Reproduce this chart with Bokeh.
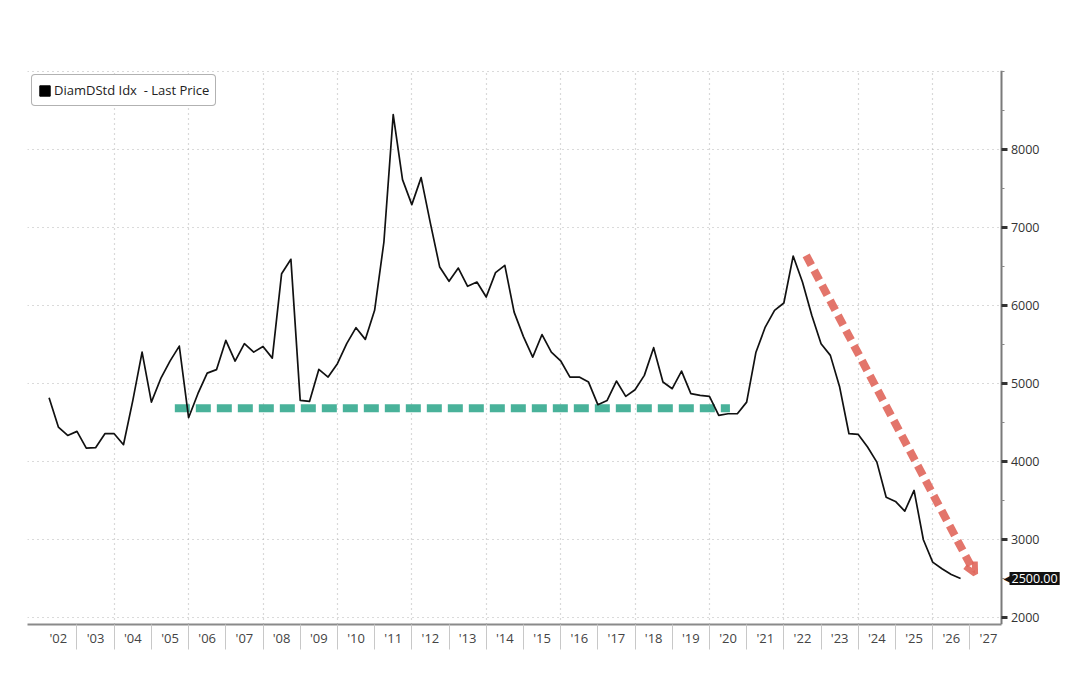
from bokeh.plotting import figure
from bokeh.models import (Range1d, LinearAxis, FixedTicker, CustomJSTickFormatter,
                          Legend, LegendItem, Label, Arrow, OpenHead)
from bokeh.embed import file_html
from bokeh.resources import INLINE

# ---------------- data ----------------
series_name = "DiamDStd Idx  - Last Price"
first_quarter = 2002.25          # first observation (year fraction), quarterly data
price = [
    4817, 4440, 4333,
    4385, 4171, 4176, 4355,
    4355, 4214, 4780, 5401,
    4760, 5060, 5286, 5478,
    4560, 4868, 5132, 5176,
    5551, 5286, 5509, 5401,
    5474, 5324, 6406, 6590,
    4782, 4769, 5179, 5081,
    5253, 5509, 5714, 5564,
    5936, 6812, 8445, 7612,
    7291, 7637, 7050, 6491,
    6308, 6478, 6244, 6299,
    6107, 6419, 6513, 5914,
    5600, 5337, 5626, 5401,
    5290, 5081, 5081, 5017,
    4727, 4782, 5030, 4833,
    4919, 5103, 5458, 5017,
    4932, 5158, 4868, 4846,
    4833, 4590, 4611, 4611,
    4760, 5400, 5722, 5936,
    6030, 6632, 6299, 5872,
    5509, 5359, 4953, 4355,
    4346, 4184, 3991, 3542,
    3487, 3363, 3628, 2996,
    2709, 2624, 2551, 2500,
]
last_price_label = "2500.00"
year_labels = ["'02", "'03", "'04", "'05", "'06", "'07", "'08", "'09", "'10", "'11",
               "'12", "'13", "'14", "'15", "'16", "'17", "'18", "'19", "'20", "'21",
               "'22", "'23", "'24", "'25", "'26", "'27"]
first_label_year = 2002
y_ticks = [2000, 3000, 4000, 5000, 6000, 7000, 8000]

# annotation levels
support_level = 4680
support_start, support_end = 2005.63, 2020.55
arrow_start = (2022.6, 6640)
arrow_end = (2027.14, 2560)

x_dates = [first_quarter + 0.25 * i for i in range(len(price))]

# ---------------- figure ----------------
X0, X_AXIS = 2001.67, 2027.85          # left edge of chart, position of the price axis
PX_PER_YEAR = 974 / (X_AXIS - X0)
X1 = X0 + (1064 - 27) / PX_PER_YEAR     # frame runs on under the price-axis labels
Y0, Y1 = 1910, 9010

p = figure(width=1064, height=658, output_backend="svg", toolbar_location=None,
           x_range=Range1d(X0, X1), y_range=Range1d(Y0, Y1),
           x_axis_location=None, y_axis_location=None,
           min_border_left=27, min_border_right=0, min_border_top=70, min_border_bottom=34)
p.outline_line_color = None
p.background_fill_color = "white"
p.border_fill_color = "white"

# grids
p.xgrid.ticker = FixedTicker(ticks=list(range(2004, 2027, 2)))
p.ygrid.ticker = FixedTicker(ticks=list(range(2000, 9001, 1000)))
for g in (p.xgrid, p.ygrid):
    g.grid_line_color = "#b4b4b4"
    g.grid_line_dash = "1 4"
    g.grid_line_width = 1.2
try:
    p.ygrid.cross_bounds = (X0, X_AXIS)
except Exception:
    pass

# bottom axis: labels at mid-year, separators at year starts
xaxis = LinearAxis(
    ticker=FixedTicker(ticks=[first_label_year + i + 0.5 for i in range(len(year_labels))],
                       minor_ticks=list(range(first_label_year + 1, first_label_year + len(year_labels)))),
    formatter=CustomJSTickFormatter(args=dict(labels=year_labels, start=first_label_year), code="""
        const i = Math.round(tick - 0.5) - start;
        return (i >= 0 && i < labels.length) ? labels[i] : '';
    """),
    bounds=(X0, X_AXIS))
xaxis.axis_line_color = "#8a8a8a"
xaxis.axis_line_width = 2
xaxis.major_tick_line_color = None
xaxis.major_tick_in = 0
xaxis.major_tick_out = 0
xaxis.minor_tick_line_color = "#c8c8c8"
xaxis.minor_tick_in = 0
xaxis.minor_tick_out = 25
xaxis.major_label_standoff = -21
xaxis.major_label_text_font = "Open Sans"
xaxis.major_label_text_font_size = "13px"
xaxis.major_label_text_color = "#444444"
p.add_layout(xaxis, "below")

# price axis: drawn at a fixed x position, ticks and labels turned to its right side
yaxis = LinearAxis(ticker=FixedTicker(ticks=y_ticks,
                                      minor_ticks=[2500, 3500, 4500, 5500, 6500, 7500, 8500, 9000]),
                   fixed_location=X_AXIS)
yaxis.axis_line_color = "#7a7a7a"
yaxis.axis_line_width = 2
yaxis.major_tick_line_color = "#333333"
yaxis.major_tick_line_width = 3
yaxis.major_tick_in = 6
yaxis.major_tick_out = 0
yaxis.minor_tick_line_color = "#888888"
yaxis.minor_tick_in = 3
yaxis.minor_tick_out = 0
yaxis.major_label_standoff = -38
yaxis.major_label_text_font = "Open Sans"
yaxis.major_label_text_font_size = "12.5px"
yaxis.major_label_text_color = "#333333"
p.add_layout(yaxis, "left")

# support line (green dashed)
p.line([support_start, support_end], [support_level, support_level],
       line_color="#3fae95", line_width=8, line_dash="15 6", line_alpha=0.95, line_cap="butt")

# price line
line_r = p.line(x_dates, price, line_color="#111111", line_width=1.7, line_join="round")

# red dashed arrow
arrow = Arrow(x_start=arrow_start[0], y_start=arrow_start[1], x_end=arrow_end[0], y_end=arrow_end[1],
              line_color="#e0665b", line_width=8, line_dash="11 6", line_alpha=0.9,
              end=OpenHead(size=11, line_color="#e0665b", line_width=6, line_alpha=0.9))
p.add_layout(arrow)

# legend with black square glyph (dummy quad outside the visible range)
sq = p.quad(left=[X0 - 12], right=[X0 - 11], bottom=[Y0 - 2000], top=[Y0 - 1000],
            fill_color="black", line_color="black")
legend = Legend(items=[LegendItem(label=series_name, renderers=[sq])],
                location="top_left", margin=4, padding=6, spacing=0,
                label_text_font="Open Sans", label_text_font_size="13px",
                label_text_color="#222222", label_standoff=3,
                glyph_width=13, glyph_height=13,
                border_line_color="#666666", border_line_width=1.2,
                background_fill_color="white", background_fill_alpha=1)
try:
    legend.border_radius = 4
except Exception:
    pass
p.add_layout(legend)

# last-price tag next to the price axis
tag = Label(x=X_AXIS, y=price[-1], x_offset=8, text=last_price_label,
            text_baseline="middle", text_align="left",
            text_font="Open Sans", text_font_size="12.5px", text_color="white",
            background_fill_color="#111111", padding=2)
p.add_layout(tag)
tag_ptr = Label(x=X_AXIS, y=price[-1], x_offset=2, text="\u25c0",
                text_baseline="middle", text_align="left",
                text_font="DejaVu Sans", text_font_size="10px", text_color="#111111")
p.add_layout(tag_ptr)

open("out.html", "w").write(file_html(p, INLINE))
